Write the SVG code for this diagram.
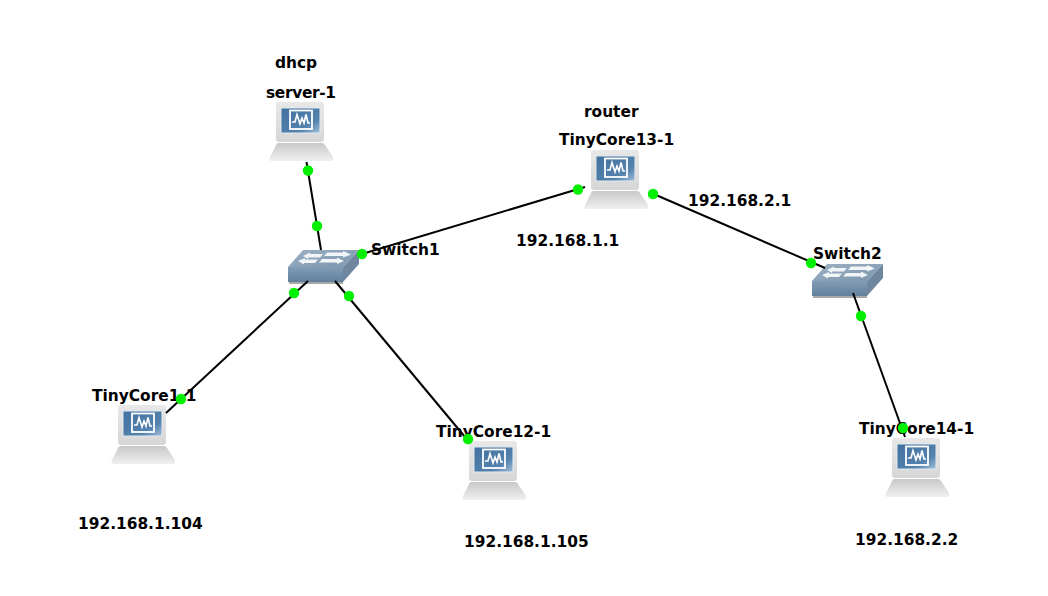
<svg xmlns="http://www.w3.org/2000/svg" xmlns:xlink="http://www.w3.org/1999/xlink" width="1048" height="596" viewBox="0 0 1048 596">
<style>
text{font-family:"DejaVu Sans",Verdana,sans-serif;font-weight:700;font-size:15.4px;fill:#000}
.l{stroke:#000;stroke-width:2;fill:none}
.d{fill:#00f000}
</style>
<defs>
<linearGradient id="b" x1="0" y1="0" x2="0" y2="1"><stop offset="0" stop-color="#c8c8c8"/><stop offset="1" stop-color="#f0f0f0"/></linearGradient>
<linearGradient id="m" x1="0" y1="0" x2="0" y2="1"><stop offset="0" stop-color="#e8e8e8"/><stop offset="1" stop-color="#d6d6d6"/></linearGradient>
<linearGradient id="s" x1="0" y1="0" x2="1" y2="1"><stop offset="0" stop-color="#41719f"/><stop offset="0.7" stop-color="#5482ae"/><stop offset="1" stop-color="#a3bfd8"/></linearGradient>
<linearGradient id="f" x1="0" y1="0" x2="0" y2="1"><stop offset="0" stop-color="#819cb6"/><stop offset="1" stop-color="#62809c"/></linearGradient>
<linearGradient id="t" x1="0" y1="0" x2="1" y2="1"><stop offset="0" stop-color="#9cb0c4"/><stop offset="1" stop-color="#7c95ad"/></linearGradient>
<g id="pc">
<rect x="7" y="0" width="48" height="40" rx="3" fill="url(#m)"/>
<rect x="12" y="6" width="39" height="25" fill="url(#s)" stroke="#e4eaf0" stroke-width="1"/>
<rect x="21" y="8.500" width="22" height="18.500" fill="none" stroke="#fff" stroke-width="1.800"/>
<path d="M23 20 L26 20 L28 12.500 L31 22 L33 16 L35 21 L37 12.500 L39 21 L41 21" fill="none" stroke="#fff" stroke-width="1.600"/>
<path d="M9 41 H53 Q55 41 56 43 L64 55 Q65 59 61 59 H3 Q-1 59 1 55 L7 43 Q8 41 9 41Z" fill="url(#b)"/>
</g>
<g id="sw">
<path d="M0 18 H55 V33 H0Z" fill="url(#f)"/>
<rect x="1" y="33" width="54" height="2" fill="#a8a8a8"/>
<path d="M55 18 L71 1 V15 L55 33Z" fill="#6f879e"/>
<path d="M0 18 L15 1 H71 L55 18Z" fill="url(#t)"/>
<path d="M15 7 L22 3.500 V5 H35 L32 8.500 H20 V10Z M39 3.500 H55 V2 L63 5.500 L55 8.500 V7 H36Z M10 12 L17 9 V10.500 H30 L27 14 H16 V15.500Z M34 10 H49 V8.500 L56 12 L49 15 V13.500 H31Z" fill="#f2f5f8"/>
</g>
</defs>
<g id="server-1"><use xlink:href="#pc" x="269" y="102"/><text x="266" y="98" textLength="70">server-1</text><text x="275" y="68">dhcp</text></g>
<g id="router"><use xlink:href="#pc" x="584" y="150"/><text x="559" y="145">TinyCore13-1</text><text x="584" y="117">router</text><text x="516" y="246">192.168.1.1</text><text x="688" y="206">192.168.2.1</text></g>
<g id="tc1"><use xlink:href="#pc" x="111" y="405"/><text x="92" y="401">TinyCore1-1</text><text x="78" y="529">192.168.1.104</text></g>
<g id="tc12"><use xlink:href="#pc" x="462" y="441"/><text x="436" y="437">TinyCore12-1</text><text x="464" y="547">192.168.1.105</text></g>
<g id="tc14"><use xlink:href="#pc" x="885" y="438"/><text x="859" y="434">TinyCore14-1</text><text x="855" y="545">192.168.2.2</text></g>
<g id="switch1"><use xlink:href="#sw" x="288" y="249"/><text x="371" y="255">Switch1</text></g>
<g id="switch2"><use xlink:href="#sw" x="812" y="263"/><text x="813" y="259">Switch2</text></g>
<g id="connectors">
<path class="l" d="M306.500 162 L321 250"/>
<path class="l" d="M362 254 L585 187"/>
<path class="l" d="M649 192 L825 268"/>
<path class="l" d="M853 293 L905 437"/>
<path class="l" d="M308 281 L166 413"/>
<path class="l" d="M335 281 L470 443"/>
<g class="d">
<circle cx="308" cy="170.500" r="5.200"/><circle cx="317" cy="226" r="5.200"/>
<circle cx="362" cy="254" r="5.200"/><circle cx="578" cy="189.500" r="5.200"/>
<circle cx="653" cy="194" r="5.200"/><circle cx="811" cy="263" r="5.200"/>
<circle cx="861" cy="316" r="5.200"/><circle cx="903" cy="428" r="5.200"/>
<circle cx="294" cy="293" r="5.200"/><circle cx="181" cy="399" r="5.200"/>
<circle cx="349" cy="296" r="5.200"/><circle cx="468" cy="439" r="5.200"/>
</g>
</g>
</svg>
